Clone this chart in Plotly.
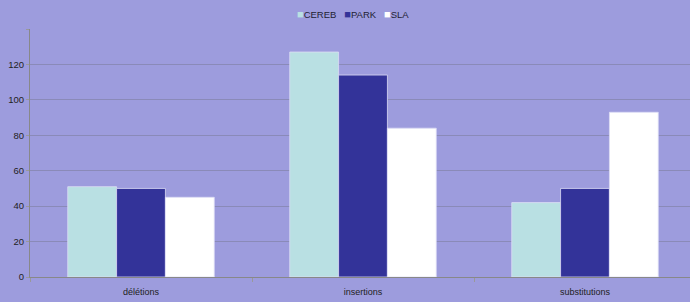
import plotly.graph_objects as go

categories = ["délétions", "insertions", "substitutions"]
cereb = [51, 127, 42]
park = [50, 114, 50]
sla = [45, 84, 93]
series_names = ["CEREB", "PARK", "SLA"]
colors = ["#b9e0e3", "#333399", "#ffffff"]
y_ticks = [0, 20, 40, 60, 80, 100, 120, 140]
y_tick_text = ["0", "20", "40", "60", "80", "100", "120", ""]

fig = go.Figure()
for name, vals, col in zip(series_names, [cereb, park, sla], colors):
    fig.add_trace(go.Bar(
        x=categories, y=vals, name=name, showlegend=False,
        marker=dict(color=col, line=dict(color="rgba(220,220,245,0.8)", width=1)),
    ))

legend_text = "&nbsp;&nbsp;&nbsp;".join(
    f"<span style='color:{c};font-size:11px'>■</span>{n}" for n, c in zip(series_names, colors)
)
plot_h = 302 - 29 - 25
fig.add_annotation(
    x=0.489, xref="paper", xanchor="center", y=1 + (29 - 14) / plot_h, yref="paper",
    yanchor="middle", text=legend_text, showarrow=False,
    font=dict(size=9.5, color="#222233"),
)

fig.update_layout(
    width=690, height=302,
    margin=dict(l=30, r=0, t=29, b=25, autoexpand=False),
    paper_bgcolor="#9d9cdd",
    plot_bgcolor="#9d9cdd",
    barmode="group",
    bargap=0.34,
    bargroupgap=0,
    font=dict(family="Liberation Sans, Arial, sans-serif", size=9, color="#222222"),
    showlegend=False,
    xaxis=dict(range=[-0.5, 2.473], showline=True, linecolor="#888888", linewidth=1,
               ticks="outside", tickson="boundaries", ticklen=4, tickcolor="#999999",
               ticklabelstandoff=6,
               showgrid=False, tickfont=dict(size=9, color="#222222")),
    yaxis=dict(range=[0, 140], tickvals=y_ticks, ticktext=y_tick_text,
               showline=True, linecolor="#888888", linewidth=1,
               ticks="outside", ticklen=3, tickcolor="#999999",
               showgrid=True, gridcolor="#8a8ab8", gridwidth=1, zeroline=False,
               tickfont=dict(size=9.5, color="#222222")),
)

fig.write_html("out.html", config={"displayModeBar": False},
               post_script="document.body.style.margin='0';")
